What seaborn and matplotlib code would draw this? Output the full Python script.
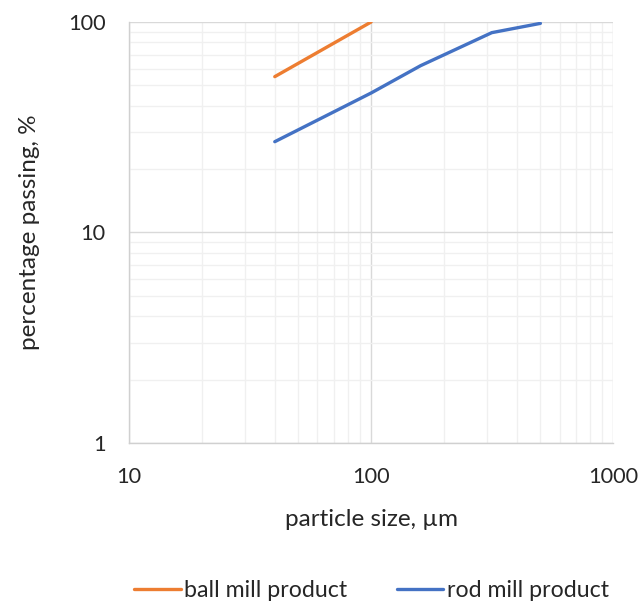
import seaborn as sns
import matplotlib.pyplot as plt
import matplotlib.ticker as mticker
import pandas as pd

# sieve data
ball_size = [40, 100]
ball_passing = [55, 100]
rod_size = [40, 100, 160, 315, 500]
rod_passing = [27, 46, 62, 89, 98.5]

series_names = ['ball mill product', 'rod mill product']
series_colors = ['#ED7D31', '#4472C4']

df = pd.concat([
    pd.DataFrame({'size': ball_size, 'passing': ball_passing, 'product': series_names[0]}),
    pd.DataFrame({'size': rod_size, 'passing': rod_passing, 'product': series_names[1]}),
])

sns.set_style('white')
plt.rcParams['font.family'] = ['Lato', 'DejaVu Sans']

fig = plt.figure(figsize=(6.44, 6.01), dpi=100)
ax = fig.add_axes([0.2003, 0.2629, 0.752, 0.7005])

sns.lineplot(data=df, x='size', y='passing', hue='product',
             palette=dict(zip(series_names, series_colors)),
             linewidth=2.4, ax=ax, legend=False, sort=False)

ax.set_xscale('log')
ax.set_yscale('log')
ax.set_xlim(10, 1000)
ax.set_ylim(1, 100)

ax.xaxis.set_major_locator(mticker.FixedLocator([10, 100, 1000]))
ax.yaxis.set_major_locator(mticker.FixedLocator([1, 10, 100]))
ax.xaxis.set_major_formatter(mticker.FormatStrFormatter('%d'))
ax.yaxis.set_major_formatter(mticker.FormatStrFormatter('%d'))
ax.xaxis.set_minor_locator(mticker.LogLocator(base=10, subs=range(2, 10)))
ax.yaxis.set_minor_locator(mticker.LogLocator(base=10, subs=range(2, 10)))
ax.xaxis.set_minor_formatter(mticker.NullFormatter())
ax.yaxis.set_minor_formatter(mticker.NullFormatter())

ax.grid(which='major', color='#d9d9d9', linewidth=1.0)
ax.grid(which='minor', color='#f0f0f0', linewidth=1.0)
ax.set_axisbelow(True)

for s in ['top', 'right']:
    ax.spines[s].set_visible(False)
for s in ['left', 'bottom']:
    ax.spines[s].set_color('#d0d0d0')
    ax.spines[s].set_linewidth(1.0)

ax.tick_params(which='major', length=0, labelsize=15.7, colors='#262626')
ax.tick_params(axis='y', which='major', pad=17)
ax.tick_params(axis='x', which='major', pad=17)
ax.tick_params(which='minor', direction='in', length=6, color='#d0d0d0', width=1.0)

ax.set_xlabel('particle size, µm', fontsize=17.5, color='#262626', labelpad=16)
ax.set_ylabel('percentage passing, %', fontsize=17.5, color='#262626', labelpad=20)

handles = [plt.Line2D([], [], color=c, linewidth=2.4) for c in series_colors]
fig.legend(handles, series_names, loc='center', bbox_to_anchor=(0.577, 0.018),
           ncol=2, frameon=False, fontsize=16.7, handlelength=2.0,
           handletextpad=0.15, columnspacing=2.15, labelcolor='#262626')

fig.savefig('out.png', dpi=100)
